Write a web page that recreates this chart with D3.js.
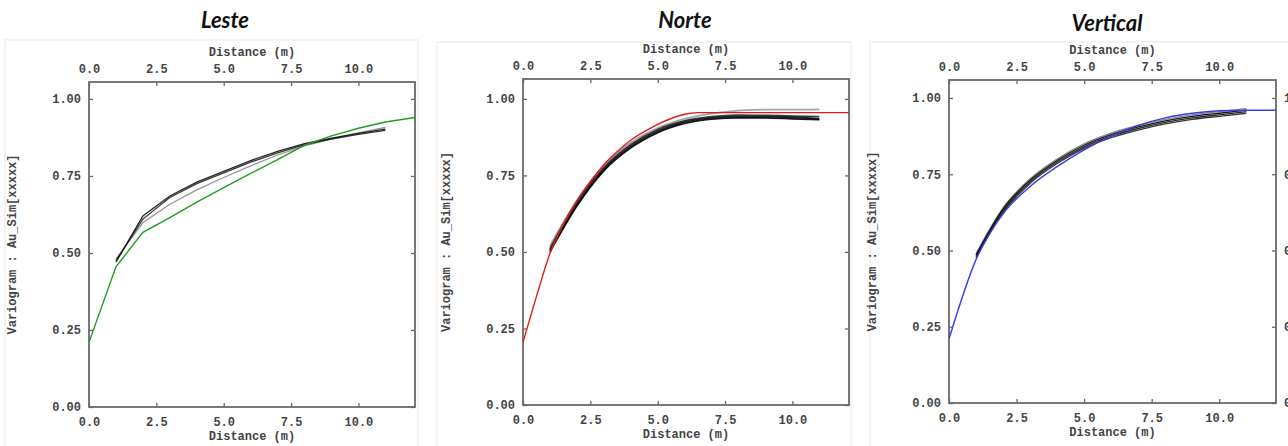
<!DOCTYPE html>
<html><head><meta charset="utf-8">
<script src="https://cdn.jsdelivr.net/npm/d3@7/dist/d3.min.js"></script>
<style>
html,body{margin:0;padding:0;background:#fff;}
svg{display:block;}
.tick text{font-family:"Liberation Mono",monospace;font-weight:bold;font-size:12px;fill:#444;}
</style></head>
<body>
<svg id="chart" width="1288" height="446"></svg>
<script>
// ---------- data ----------
const titles = ["Leste", "Norte", "Vertical"];
const modelColors = ["#1f9e1f", "#e41a1a", "#3b3bf0"];
const xTicks = [0, 2.5, 5, 7.5, 10];
const yTicks = [0, 0.25, 0.5, 0.75, 1.0];
const xTickLabels = ["0.0", "2.5", "5.0", "7.5", "10.0"];
const yTickLabels = ["0.00", "0.25", "0.50", "0.75", "1.00"];
const xTitle = "Distance (m)";
const yTitle = "Variogram : Au_Sim[xxxxx]";

const lags = [1, 2, 3, 4, 5, 6, 7, 8, 9, 10, 11];

// Leste (East)
const lesteModelDist = [0, 1, 2, 3, 4, 5, 6, 7, 8, 9, 10, 11, 12.1];
const lesteModel = [0.21, 0.455, 0.567, 0.615, 0.665, 0.712, 0.758, 0.803, 0.85, 0.88, 0.905, 0.925, 0.94];
const lesteSim1 = [0.47, 0.62, 0.685, 0.73, 0.765, 0.80, 0.83, 0.855, 0.873, 0.888, 0.902];
const lesteSim2 = [0.475, 0.61, 0.68, 0.725, 0.76, 0.795, 0.825, 0.852, 0.87, 0.885, 0.898];
const lesteSim3 = [0.48, 0.598, 0.658, 0.705, 0.745, 0.783, 0.818, 0.848, 0.87, 0.89, 0.908];

// Norte (North)
const norteModelDist = [0, 0.5, 1, 1.5, 2, 2.5, 3, 3.5, 4, 4.5, 5, 5.5, 6, 6.5, 12.1];
const norteModel = [0.205, 0.355, 0.495, 0.59, 0.668, 0.73, 0.785, 0.828, 0.865, 0.893, 0.917, 0.936, 0.95, 0.955, 0.955];
const norteSim1 = [0.505, 0.655, 0.77, 0.845, 0.895, 0.925, 0.938, 0.942, 0.942, 0.94, 0.935];
const norteSim2 = [0.51, 0.663, 0.775, 0.85, 0.90, 0.928, 0.942, 0.947, 0.946, 0.944, 0.942];
const norteSim3 = [0.52, 0.668, 0.782, 0.857, 0.905, 0.935, 0.952, 0.962, 0.965, 0.965, 0.966];
const norteSim4 = [0.50, 0.65, 0.765, 0.84, 0.89, 0.92, 0.934, 0.938, 0.938, 0.935, 0.932];

// Vertical
const verticalModelDist = [0, 1, 2, 3, 4, 5, 6, 7, 8, 9, 10, 11, 12.1];
const verticalModel = [0.21, 0.47, 0.62, 0.71, 0.775, 0.83, 0.875, 0.91, 0.935, 0.95, 0.958, 0.96, 0.96];
const verticalSim1 = [0.48, 0.63, 0.725, 0.79, 0.84, 0.875, 0.90, 0.92, 0.935, 0.945, 0.955];
const verticalSim2 = [0.485, 0.636, 0.73, 0.795, 0.845, 0.88, 0.905, 0.925, 0.94, 0.95, 0.96];
const verticalSim3 = [0.475, 0.625, 0.72, 0.785, 0.835, 0.87, 0.895, 0.915, 0.93, 0.94, 0.95];
const verticalSim4 = [0.49, 0.64, 0.735, 0.80, 0.85, 0.885, 0.91, 0.93, 0.945, 0.955, 0.965];

const modelDists = [lesteModelDist, norteModelDist, verticalModelDist];
const models = [lesteModel, norteModel, verticalModel];
const sims = [
  [lesteSim3, lesteSim2, lesteSim1],
  [norteSim3, norteSim1, norteSim2, norteSim4],
  [verticalSim4, verticalSim3, verticalSim1, verticalSim2]
];
const simColors = [
  ["#8a8a8a", "#222", "#111"],
  ["#9a9a9a", "#111", "#222", "#000"],
  ["#777", "#222", "#111", "#000"]
];

// ---------- layout ----------
const layout = [
  {frame:[5, 40, 413, 420], box:[89, 415, 82, 407], xMax:12.1, yMax:1.055, titleX:225, titleY:28, curve:d3.curveLinear},
  {frame:[437, 42, 414, 420], box:[523, 849, 79, 405], xMax:12.1, yMax:1.065, titleX:685, titleY:28, curve:d3.curveMonotoneX},
  {frame:[870, 42, 430, 420], box:[949, 1276, 80, 403], xMax:12.1, yMax:1.059, titleX:1107, titleY:31, curve:d3.curveMonotoneX}
];

const svg = d3.select("#chart");
const mono = '"Liberation Mono", "DejaVu Sans Mono", monospace';

layout.forEach((L, i) => {
  const [x0, x1, y0, y1] = L.box;
  const x = d3.scaleLinear().domain([0, L.xMax]).range([x0, x1]);
  const y = d3.scaleLinear().domain([0, L.yMax]).range([y1, y0]);
  const g = svg.append("g");

  // faint panel frame
  g.append("rect").attr("x", L.frame[0]).attr("y", L.frame[1])
    .attr("width", L.frame[2]).attr("height", L.frame[3])
    .attr("fill", "none").attr("stroke", "#f0f0f0").attr("stroke-width", 1.5);

  // title
  g.append("text").attr("x", L.titleX).attr("y", L.titleY)
    .attr("text-anchor", "middle")
    .style("font-family", "Lato, 'Open Sans', sans-serif")
    .style("font-weight", "bold").style("font-style", "italic")
    .style("font-size", "22px").style("fill", "#111")
    .text(titles[i]);

  const fmtX = d => xTickLabels[xTicks.indexOf(d)];
  const fmtY = d => yTickLabels[yTicks.indexOf(d)];

  const axes = [
    {ax: d3.axisBottom(x).tickValues(xTicks).tickFormat(fmtX), t:`translate(0,${y1})`},
    {ax: d3.axisTop(x).tickValues(xTicks).tickFormat(fmtX), t:`translate(0,${y0})`},
    {ax: d3.axisLeft(y).tickValues(yTicks).tickFormat(fmtY), t:`translate(${x0},0)`},
    {ax: d3.axisRight(y).tickValues(yTicks).tickFormat(fmtY), t:`translate(${x1},0)`}
  ];
  axes.forEach((A, k) => {
    const ag = g.append("g").attr("transform", A.t)
      .call(A.ax.tickSizeInner(-4).tickSizeOuter(0).tickPadding(k === 0 ? 10 : (k === 1 ? 9 : 8)));
    ag.select(".domain").remove();
    ag.selectAll(".tick line").attr("stroke", "#666").attr("stroke-width", 1.3);
    if (k === 3 && i < 2) ag.selectAll("text").remove();
  });

  // frame box
  g.append("rect").attr("x", x0).attr("y", y0).attr("width", x1 - x0).attr("height", y1 - y0)
    .attr("fill", "none").attr("stroke", "#6a6a6a").attr("stroke-width", 1.8);

  // axis titles
  g.append("text").attr("x", (x0 + x1) / 2).attr("y", y0 - 26)
    .attr("text-anchor", "middle").style("font-family", mono).style("font-weight", "bold")
    .style("font-size", "12px").style("fill", "#444").text(xTitle);
  g.append("text").attr("x", (x0 + x1) / 2).attr("y", y1 + 33)
    .attr("text-anchor", "middle").style("font-family", mono).style("font-weight", "bold")
    .style("font-size", "12px").style("fill", "#444").text(xTitle);
  g.append("text")
    .attr("transform", `translate(${x0 - 73},${(y0 + y1) / 2}) rotate(-90)`)
    .attr("text-anchor", "middle").style("font-family", mono).style("font-weight", "bold")
    .style("font-size", "12px").style("fill", "#444").text(yTitle);

  const clipId = "clip" + i;
  g.append("clipPath").attr("id", clipId).append("rect")
    .attr("x", x0).attr("y", y0).attr("width", x1 - x0).attr("height", y1 - y0);
  const plot = g.append("g").attr("clip-path", `url(#${clipId})`);

  const simLine = d3.line().x((d, j) => x(lags[j])).y(d => y(d)).curve(L.curve);
  sims[i].forEach((s, j) => {
    plot.append("path").attr("d", simLine(s)).attr("fill", "none")
      .attr("stroke", simColors[i][j]).attr("stroke-width", i === 1 ? 1.8 : 1.3)
      .attr("stroke-opacity", 0.9);
  });

  const md = modelDists[i];
  const modelLine = d3.line().x((d, j) => x(md[j])).y(d => y(d)).curve(L.curve);
  plot.append("path").attr("d", modelLine(models[i])).attr("fill", "none")
    .attr("stroke", modelColors[i]).attr("stroke-width", 1.4);
});
</script>
</body></html>
